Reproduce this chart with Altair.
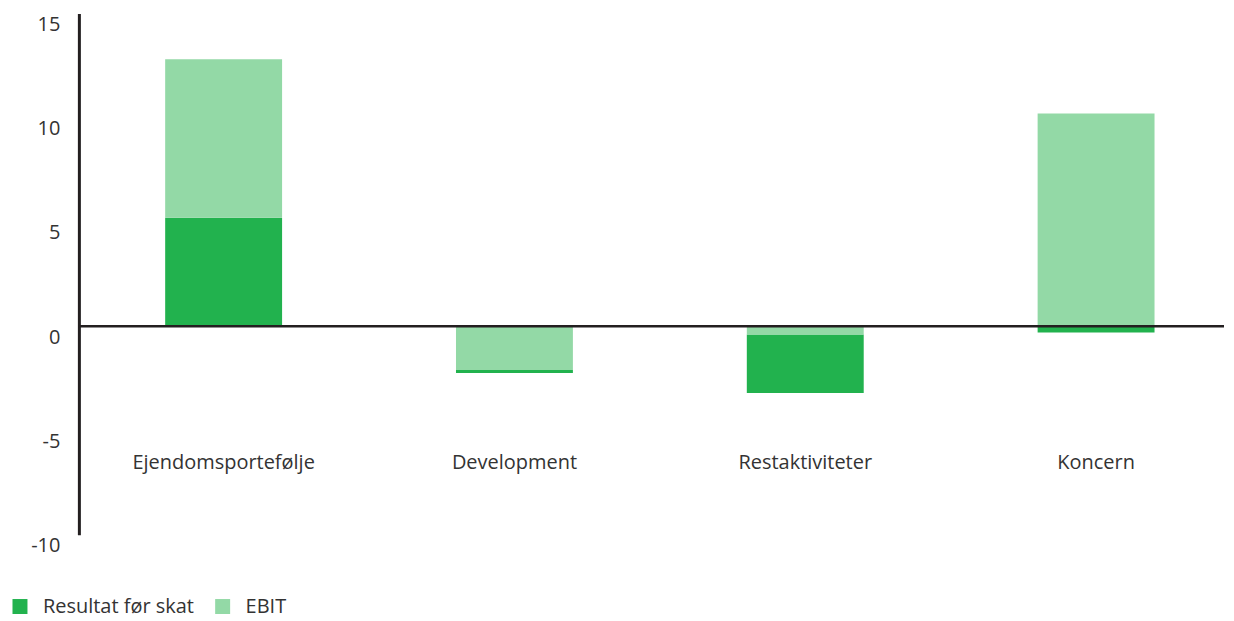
import altair as alt
import pandas as pd

categories = ["Ejendomsportefølje", "Development", "Restaktiviteter", "Koncern"]
series_names = ["Resultat før skat", "EBIT"]
resultat = [5.2, -0.15, -2.8, -0.3]
ebit = [7.6, -2.1, -0.4, 10.2]
y_ticks = [-10, -5, 0, 5, 10, 15]
colors = ["#22b24e", "#93d9a6"]

rows = []
for i, c in enumerate(categories):
    for s, v in ((series_names[0], resultat[i]), (series_names[1], ebit[i])):
        # stack piece nearest zero: Resultat for positive values, EBIT for negative values
        near = (v >= 0 and s == series_names[0]) or (v < 0 and s == series_names[1])
        rows.append({"cat": c, "series": s, "value": v, "ord": 0 if near else 1})
df = pd.DataFrame(rows)
labels_df = pd.DataFrame({"cat": categories})

FONT = "Open Sans"
TEXT = "#333333"
LINE = "#231f20"

xscale = alt.Scale(domain=categories, paddingInner=0.598, paddingOuter=0.2678, align=0.554)
yscale = alt.Scale(domain=[-10, 15], nice=False, zero=False)

bars = alt.Chart(df).mark_bar(stroke=None).encode(
    x=alt.X("cat:N", scale=xscale, axis=None, sort=categories),
    y=alt.Y("value:Q", stack="zero", scale=yscale,
            axis=alt.Axis(values=y_ticks, title=None, grid=False, ticks=False,
                          domainColor=LINE, domainWidth=3, labelFont=FONT,
                          labelFontSize=20, labelColor=TEXT, labelPadding=19,
                          labelBaseline="top", labelOffset=1, minExtent=60,
                          labelExpr="'' + datum.value")),
    color=alt.Color("series:N", scale=alt.Scale(domain=series_names, range=colors),
                    legend=alt.Legend(title=None, orient="none", legendX=-69, legendY=584,
                                      direction="horizontal", symbolType="square",
                                      symbolSize=225, symbolStrokeWidth=0,
                                      labelFont=FONT, labelFontSize=20, labelColor=TEXT,
                                      labelOffset=13, columnPadding=18)),
    order=alt.Order("ord:Q"),
)

zero = alt.Chart(pd.DataFrame({"v": [0]})).mark_rule(color=LINE, strokeWidth=2.5).encode(
    y=alt.Y("v:Q", scale=yscale)
)

cat_text = alt.Chart(labels_df).mark_text(font=FONT, fontSize=20, color=TEXT, baseline="middle").encode(
    x=alt.X("cat:N", scale=xscale, sort=categories),
    y=alt.datum(-6.55),
    text="cat:N",
)

chart = alt.layer(bars, zero, cat_text).properties(
    width=1147, height=522,
    padding={"left": 2, "top": 5, "right": 0, "bottom": 0},
).configure_view(stroke=None)

chart.save("out.html", embed_options={"renderer": "svg", "actions": False})
